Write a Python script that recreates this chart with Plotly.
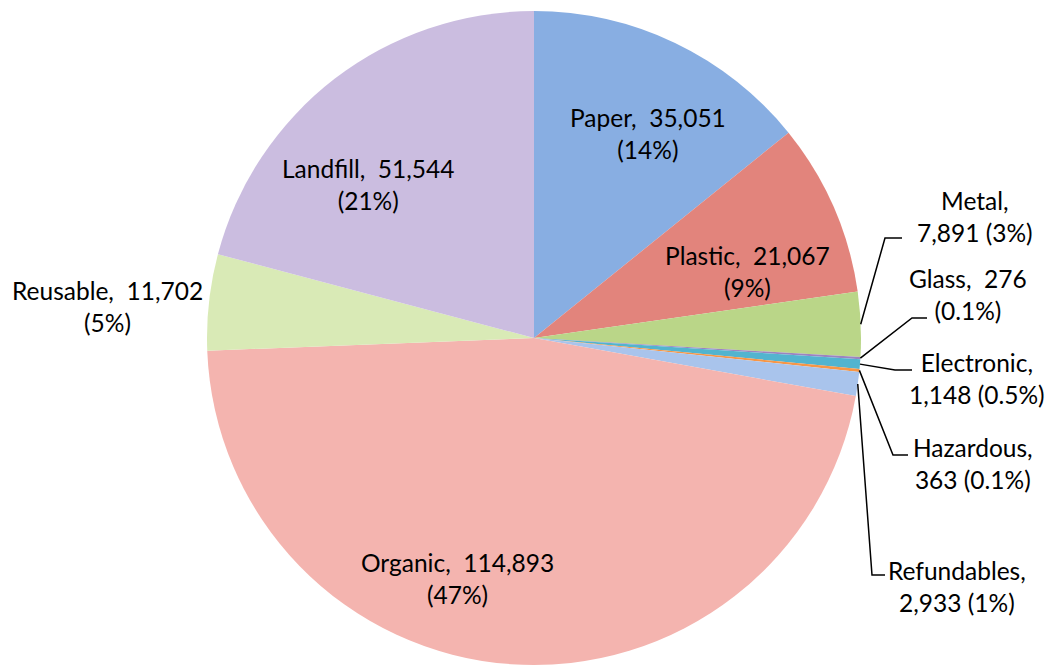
import math
import plotly.graph_objects as go

# Waste stream tonnages, in drawing order (clockwise from 12 o'clock)
categories = ["Paper", "Plastic", "Metal", "Glass", "Electronic",
              "Hazardous", "Refundables", "Organic", "Reusable", "Landfill"]
tonnes = [35051, 21067, 7891, 276, 1148, 363, 2933, 114893, 11702, 51544]
slice_colors = ["#88aee2", "#e2847c", "#bad688", "#9b84c0", "#52b4cf",
                "#f79646", "#a9c4ec", "#f4b4af", "#d9eab6", "#cbbde0"]

W, H = 1045, 668
# pie placement in pixels
CX, CY, R = 534, 338, 327

total = sum(tonnes)
pct = [v / total * 100 for v in tonnes]


def pct_text(p):
    if p < 1:
        return f"{p:.1f}%"
    return f"{round(p):.0f}%"


NB = "\u00a0"
# labels that break right after the category name
two_line_after_name = {"Metal", "Electronic", "Hazardous", "Refundables"}

# label anchor points (pixels) and leader-line elbows for the small slices
label_pos = {
    "Paper": (648, 133), "Plastic": (747, 271), "Metal": (975, 216),
    "Glass": (968, 295), "Electronic": (977, 378), "Hazardous": (973, 463),
    "Refundables": (957, 586), "Organic": (457, 578), "Reusable": (107, 306),
    "Landfill": (368, 185),
}
leader_elbows = {
    "Metal": [(885, 238), (902, 238)],
    "Glass": [(912, 318), (927, 318)],
    "Electronic": [(895, 370), (912, 370)],
    "Hazardous": [(893, 455), (908, 455)],
    "Refundables": [(872, 575), (885, 575)],
}


def px(x):
    return x / W


def py(y):
    return 1 - y / H


fig = go.Figure(go.Pie(
    labels=categories,
    values=tonnes,
    sort=False,
    direction="clockwise",
    rotation=0,
    textposition="none",
    marker=dict(colors=slice_colors, line=dict(width=0)),
    domain=dict(x=[px(CX - R), px(CX + R)], y=[py(CY + R), py(CY - R)]),
    showlegend=False,
    hoverinfo="label+value+percent",
))

annotations = []
shapes = []
cum = 0.0
for name, v, p in zip(categories, tonnes, pct):
    mid = (cum + v / 2) / total * 2 * math.pi
    cum += v
    val = f"{v:,}"
    if name in two_line_after_name:
        text = f"{name},<br>{val} ({pct_text(p)})"
    else:
        text = f"{name},{NB} {val}<br>({pct_text(p)})"
    lx, ly = label_pos[name]
    annotations.append(dict(
        x=px(lx), y=py(ly), xref="paper", yref="paper", text=text,
        showarrow=False, align="center", xanchor="center", yanchor="middle",
        font=dict(family="Lato, 'Open Sans', sans-serif", size=24.5, color="#000000"),
    ))
    if name in leader_elbows:
        sx = CX + R * math.sin(mid)
        sy = CY - R * math.cos(mid)
        pts = [(sx, sy)] + leader_elbows[name]
        path = "M " + " L ".join(f"{px(a)},{py(b)}" for a, b in pts)
        shapes.append(dict(type="path", path=path, xref="paper", yref="paper",
                           line=dict(color="#000000", width=1.5)))

fig.update_layout(
    width=W, height=H,
    margin=dict(l=0, r=0, t=0, b=0),
    paper_bgcolor="white", plot_bgcolor="white",
    annotations=annotations, shapes=shapes,
)

fig.write_html("out.html")
